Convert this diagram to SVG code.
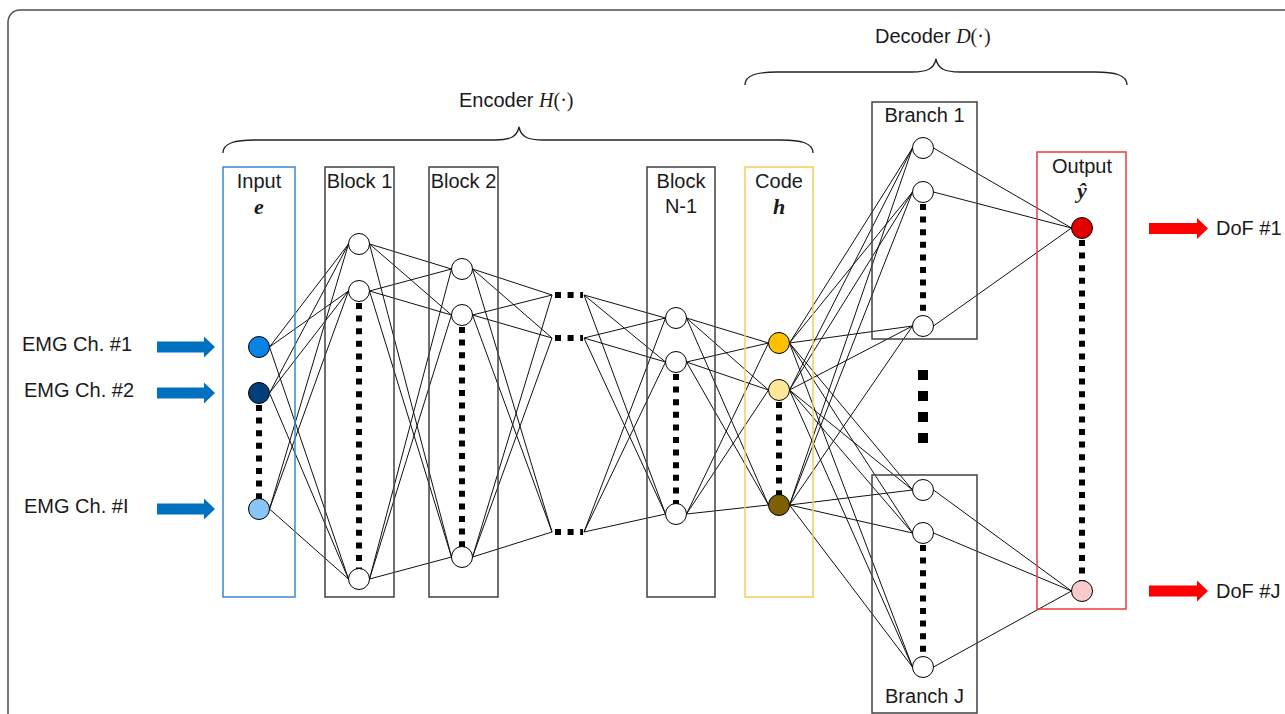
<svg xmlns="http://www.w3.org/2000/svg" width="1285" height="714" viewBox="0 0 1285 714">
<style>
.lbl{font-family:"Liberation Sans",Arial,sans-serif;font-size:20px;fill:#1a1a1a}
.mid{text-anchor:middle}
.math{font-family:"Liberation Serif","Times New Roman",serif;font-size:20px;fill:#1a1a1a}
.bi{font-weight:bold;font-style:italic;font-size:22px}
.box{fill:none;stroke:#404040;stroke-width:1.5}
.node{stroke:#000;stroke-width:1}
.dots{stroke:#000;stroke-width:6;stroke-dasharray:6 6.6;fill:none}
.conn{stroke:#111;stroke-width:1;fill:none}
.brace{stroke:#222;stroke-width:1.3;fill:none}
</style>
<rect x="0" y="0" width="1285" height="714" fill="#fff"/>
<rect x="8" y="10" width="1400" height="800" rx="12" fill="none" stroke="#4d4d4d" stroke-width="1.5"/>

<g id="braces">
<path class="brace" d="M223,153 C223,143 235,140 255,140 L495,140 C510,140 517,137 519,127 C521,137 528,140 543,140 L781,140 C801,140 813,143 813,153"/>
<text class="lbl" x="459" y="107">Encoder <tspan class="math" font-style="italic">H</tspan><tspan class="math">(·)</tspan></text>
<path class="brace" d="M745,85 C745,75 757,72 777,72 L912,72 C927,72 934,69 936,59 C938,69 945,72 960,72 L1095,72 C1115,72 1127,75 1127,85"/>
<text class="lbl" x="875" y="43">Decoder <tspan class="math" font-style="italic">D</tspan><tspan class="math">(·)</tspan></text>
</g>

<g id="connectors">
<path class="conn" d="M269.5,347 L348.5,244 M269.5,347 L348.5,291 M269.5,347 L348.5,579 M269.5,393 L348.5,244 M269.5,393 L348.5,291 M269.5,393 L348.5,579 M269.5,509 L348.5,244 M269.5,509 L348.5,291 M269.5,509 L348.5,579"/>
<path class="conn" d="M369.5,244 L451.5,269 M369.5,244 L451.5,315 M369.5,244 L451.5,557 M369.5,291 L451.5,269 M369.5,291 L451.5,315 M369.5,291 L451.5,557 M369.5,579 L451.5,269 M369.5,579 L451.5,315 M369.5,579 L451.5,557"/>
<path class="conn" d="M472.5,269 L552,295 M472.5,269 L552,338 M472.5,269 L552,532 M472.5,315 L552,295 M472.5,315 L552,338 M472.5,315 L552,532 M472.5,557 L552,295 M472.5,557 L552,338 M472.5,557 L552,532"/>
<path class="conn" d="M584,295 L665.5,318 M584,295 L665.5,362 M584,295 L665.5,514 M584,338 L665.5,318 M584,338 L665.5,362 M584,338 L665.5,514 M584,532 L665.5,318 M584,532 L665.5,362 M584,532 L665.5,514"/>
<path class="conn" d="M686.5,318 L768.5,343 M686.5,318 L768.5,390 M686.5,318 L768.5,505 M686.5,362 L768.5,343 M686.5,362 L768.5,390 M686.5,362 L768.5,505 M686.5,514 L768.5,343 M686.5,514 L768.5,390 M686.5,514 L768.5,505"/>
<path class="conn" d="M789.5,343 L912.5,148 M789.5,343 L912.5,192 M789.5,343 L912.5,326 M789.5,343 L912.5,490 M789.5,343 L912.5,533 M789.5,343 L912.5,667 M789.5,390 L912.5,148 M789.5,390 L912.5,192 M789.5,390 L912.5,326 M789.5,390 L912.5,490 M789.5,390 L912.5,533 M789.5,390 L912.5,667 M789.5,505 L912.5,148 M789.5,505 L912.5,192 M789.5,505 L912.5,326 M789.5,505 L912.5,490 M789.5,505 L912.5,533 M789.5,505 L912.5,667"/>
<path class="conn" d="M933.5,148 L1071.5,228 M933.5,192 L1071.5,228 M933.5,326 L1071.5,228 M933.5,490 L1071.5,591 M933.5,533 L1071.5,591 M933.5,667 L1071.5,591"/>
</g>

<g id="input-arrows" fill="#0070C0">
<path d="M157,341.5 L204,341.5 L204,336.5 L215,347 L204,357.5 L204,352.5 L157,352.5 Z"/>
<path d="M157,387.5 L204,387.5 L204,382.5 L215,393 L204,403.5 L204,398.5 L157,398.5 Z"/>
<path d="M157,503.5 L204,503.5 L204,498.5 L215,509 L204,519.5 L204,514.5 L157,514.5 Z"/>
</g>
<g id="input-labels">
<text class="lbl" x="22" y="351">EMG Ch. #1</text>
<text class="lbl" x="24" y="397">EMG Ch. #2</text>
<text class="lbl" x="24" y="513">EMG Ch. #I</text>
</g>

<g id="input">
<rect x="223" y="167" width="72" height="430" fill="none" stroke="#3A87CF" stroke-width="1.5"/>
<text class="lbl mid" x="259" y="188">Input</text>
<text class="math bi mid" x="259" y="214">e</text>
<line class="dots" x1="259" y1="405" x2="259" y2="499"/>
<circle class="node" cx="259" cy="347" r="10.5" fill="#0B82E6"/>
<circle class="node" cx="259" cy="393" r="10.5" fill="#003F7A"/>
<circle class="node" cx="259" cy="509" r="10.5" fill="#88C6F8"/>
</g>

<g id="block1">
<rect class="box" x="325" y="167" width="69" height="430"/>
<text class="lbl mid" x="359.5" y="188">Block 1</text>
<line class="dots" x1="359" y1="303" x2="359" y2="569"/>
<circle class="node" cx="359" cy="244" r="10.5" fill="#fff"/>
<circle class="node" cx="359" cy="291" r="10.5" fill="#fff"/>
<circle class="node" cx="359" cy="579" r="10.5" fill="#fff"/>
</g>

<g id="block2">
<rect class="box" x="429" y="167" width="69" height="430"/>
<text class="lbl mid" x="463.5" y="188">Block 2</text>
<line class="dots" x1="462" y1="327" x2="462" y2="547"/>
<circle class="node" cx="462" cy="269" r="10.5" fill="#fff"/>
<circle class="node" cx="462" cy="315" r="10.5" fill="#fff"/>
<circle class="node" cx="462" cy="557" r="10.5" fill="#fff"/>
</g>

<g id="ellipsis">
<line class="dots" x1="555" y1="295" x2="583" y2="295" stroke-dasharray="6 7"/>
<line class="dots" x1="555" y1="338" x2="583" y2="338" stroke-dasharray="6 7"/>
<line class="dots" x1="555" y1="532" x2="583" y2="532" stroke-dasharray="6 7"/>
</g>

<g id="blockN1">
<rect class="box" x="647" y="167" width="68" height="430"/>
<text class="lbl mid" x="681" y="188">Block</text>
<text class="lbl mid" x="681" y="213">N-1</text>
<line class="dots" x1="676" y1="374" x2="676" y2="504"/>
<circle class="node" cx="676" cy="318" r="10.5" fill="#fff"/>
<circle class="node" cx="676" cy="362" r="10.5" fill="#fff"/>
<circle class="node" cx="676" cy="514" r="10.5" fill="#fff"/>
</g>

<g id="code">
<rect x="745" y="167" width="68" height="430" fill="none" stroke="#F5CD5A" stroke-width="1.5"/>
<text class="lbl mid" x="779" y="188">Code</text>
<text class="math bi mid" x="779" y="214">h</text>
<line class="dots" x1="779" y1="402" x2="779" y2="495"/>
<circle class="node" cx="779" cy="343" r="10.5" fill="#FFC000"/>
<circle class="node" cx="779" cy="390" r="10.5" fill="#FFE699"/>
<circle class="node" cx="779" cy="505" r="10.5" fill="#7F6000"/>
</g>

<g id="branch1">
<rect class="box" x="872" y="102" width="105" height="237"/>
<text class="lbl mid" x="924.5" y="122">Branch 1</text>
<line class="dots" x1="923" y1="204" x2="923" y2="316"/>
<circle class="node" cx="923" cy="148" r="10.5" fill="#fff"/>
<circle class="node" cx="923" cy="192" r="10.5" fill="#fff"/>
<circle class="node" cx="923" cy="326" r="10.5" fill="#fff"/>
</g>

<g id="branch-ellipsis" fill="#000">
<rect x="918" y="370" width="10" height="10"/>
<rect x="918" y="391" width="10" height="10"/>
<rect x="918" y="412" width="10" height="10"/>
<rect x="918" y="433" width="10" height="10"/>
</g>

<g id="branchJ">
<rect class="box" x="872" y="475" width="105" height="238"/>
<text class="lbl mid" x="924.5" y="703">Branch J</text>
<line class="dots" x1="923" y1="545" x2="923" y2="657"/>
<circle class="node" cx="923" cy="490" r="10.5" fill="#fff"/>
<circle class="node" cx="923" cy="533" r="10.5" fill="#fff"/>
<circle class="node" cx="923" cy="667" r="10.5" fill="#fff"/>
</g>

<g id="output">
<rect x="1037" y="152" width="89" height="457" fill="none" stroke="#F03A3A" stroke-width="1.5"/>
<text class="lbl mid" x="1082" y="173">Output</text>
<text class="math bi mid" x="1082" y="198">ŷ</text>
<line class="dots" x1="1082" y1="240" x2="1082" y2="581"/>
<circle class="node" cx="1082" cy="228" r="10.5" fill="#E00000"/>
<circle class="node" cx="1082" cy="591" r="10.5" fill="#F8CACA"/>
</g>

<g id="output-arrows" fill="#FF0000">
<path d="M1149,223 L1197,223 L1197,218 L1208,228.5 L1197,239 L1197,234 L1149,234 Z"/>
<path d="M1149,585.5 L1197,585.5 L1197,580.5 L1208,591 L1197,601.5 L1197,596.5 L1149,596.5 Z"/>
</g>
<g id="output-labels">
<text class="lbl" x="1216" y="235">DoF #1</text>
<text class="lbl" x="1216" y="598">DoF #J</text>
</g>
</svg>
